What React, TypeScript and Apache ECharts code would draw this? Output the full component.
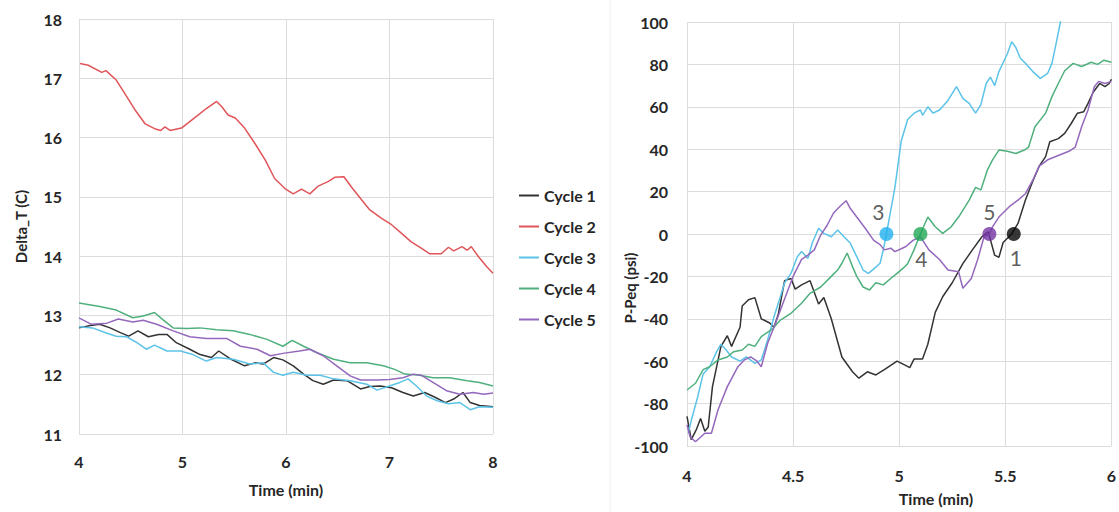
import React, { useEffect, useRef } from "react";
import * as echarts from "echarts";

// ---- Left panel: Delta_T (C) vs Time (min) ----
const leftCycle1: [number, number][] = [
  [4.0, 12.79], [4.11, 12.83], [4.2, 12.85], [4.3, 12.79], [4.4, 12.71], [4.48, 12.65],
  [4.57, 12.74], [4.67, 12.64], [4.77, 12.68], [4.85, 12.68], [4.94, 12.54], [5.07, 12.43],
  [5.17, 12.34], [5.28, 12.29], [5.35, 12.4], [5.46, 12.27], [5.6, 12.15], [5.7, 12.2],
  [5.78, 12.18], [5.88, 12.29], [5.97, 12.25], [6.07, 12.15], [6.17, 12.01], [6.26, 11.9],
  [6.36, 11.84], [6.46, 11.91], [6.59, 11.9], [6.72, 11.76], [6.81, 11.8], [6.91, 11.81],
  [7.02, 11.78], [7.13, 11.7], [7.23, 11.64], [7.34, 11.7], [7.44, 11.62], [7.54, 11.53],
  [7.62, 11.59], [7.71, 11.7], [7.78, 11.53], [7.87, 11.48], [8.0, 11.46],
];
const leftCycle2: [number, number][] = [
  [4.01, 17.25], [4.09, 17.22], [4.22, 17.1], [4.26, 17.13], [4.36, 16.97], [4.44, 16.75],
  [4.54, 16.47], [4.64, 16.23], [4.73, 16.15], [4.79, 16.12], [4.83, 16.18], [4.88, 16.12],
  [4.99, 16.16], [5.07, 16.27], [5.15, 16.38], [5.23, 16.49], [5.33, 16.61], [5.38, 16.52],
  [5.44, 16.38], [5.51, 16.33], [5.6, 16.16], [5.7, 15.9], [5.8, 15.62], [5.89, 15.31],
  [5.99, 15.14], [6.07, 15.05], [6.15, 15.13], [6.23, 15.05], [6.31, 15.18], [6.41, 15.26],
  [6.47, 15.33], [6.56, 15.34], [6.63, 15.17], [6.73, 14.95], [6.81, 14.78], [6.92, 14.64],
  [7.02, 14.53], [7.1, 14.41], [7.21, 14.24], [7.31, 14.13], [7.39, 14.04], [7.5, 14.04],
  [7.57, 14.15], [7.62, 14.09], [7.7, 14.16], [7.75, 14.1], [7.79, 14.16], [7.86, 13.99],
  [7.94, 13.82], [8.0, 13.71],
];
const leftCycle3: [number, number][] = [
  [4.0, 12.81], [4.13, 12.79], [4.27, 12.7], [4.36, 12.65], [4.46, 12.64], [4.56, 12.54],
  [4.65, 12.43], [4.73, 12.5], [4.85, 12.4], [4.98, 12.4], [5.1, 12.34], [5.23, 12.23],
  [5.33, 12.29], [5.49, 12.26], [5.65, 12.18], [5.78, 12.2], [5.88, 12.04], [5.97, 11.99],
  [6.07, 12.04], [6.2, 11.99], [6.33, 11.99], [6.46, 11.93], [6.62, 11.9], [6.78, 11.84],
  [6.88, 11.74], [7.0, 11.81], [7.1, 11.87], [7.18, 11.93], [7.26, 11.81], [7.36, 11.64],
  [7.46, 11.56], [7.57, 11.51], [7.68, 11.53], [7.78, 11.41], [7.87, 11.46], [8.0, 11.45],
];
const leftCycle4: [number, number][] = [
  [4.0, 13.21], [4.2, 13.15], [4.36, 13.09], [4.52, 12.96], [4.62, 12.99], [4.73, 13.05],
  [4.81, 12.93], [4.91, 12.79], [5.04, 12.78], [5.17, 12.79], [5.33, 12.76], [5.49, 12.74],
  [5.65, 12.68], [5.81, 12.6], [5.97, 12.48], [6.06, 12.58], [6.17, 12.48], [6.3, 12.37],
  [6.46, 12.26], [6.62, 12.2], [6.78, 12.2], [6.94, 12.15], [7.05, 12.09], [7.15, 12.01],
  [7.29, 11.99], [7.42, 11.95], [7.58, 11.95], [7.75, 11.9], [7.87, 11.87], [8.0, 11.81],
];
const leftCycle5: [number, number][] = [
  [4.0, 12.96], [4.12, 12.85], [4.27, 12.87], [4.38, 12.94], [4.52, 12.89], [4.62, 12.92],
  [4.75, 12.85], [4.91, 12.74], [5.07, 12.64], [5.23, 12.61], [5.43, 12.61], [5.56, 12.48],
  [5.72, 12.43], [5.85, 12.32], [5.97, 12.36], [6.13, 12.4], [6.23, 12.43], [6.36, 12.32],
  [6.49, 12.15], [6.62, 11.98], [6.72, 11.91], [6.88, 11.91], [7.0, 11.92], [7.13, 11.95],
  [7.23, 12.01], [7.31, 11.99], [7.42, 11.87], [7.55, 11.73], [7.68, 11.67], [7.81, 11.7],
  [7.91, 11.67], [8.0, 11.69],
];

// ---- Right panel: P-Peq (psi) vs Time (min) ----
const rightCycle1: [number, number][] = [
  [4.0, -86], [4.02, -97], [4.045, -92], [4.064, -87], [4.084, -93], [4.1, -91],
  [4.12, -72], [4.16, -53], [4.19, -48], [4.21, -53], [4.25, -44], [4.26, -34],
  [4.29, -31], [4.32, -30], [4.35, -40], [4.39, -42], [4.41, -44], [4.43, -38],
  [4.46, -22], [4.49, -21], [4.51, -26], [4.54, -24], [4.58, -22], [4.62, -33],
  [4.645, -30], [4.68, -40], [4.73, -58], [4.78, -65], [4.81, -68], [4.85, -65],
  [4.89, -66.5], [4.93, -64], [4.96, -62], [4.99, -60], [5.03, -62], [5.05, -63],
  [5.07, -59], [5.11, -59], [5.135, -52], [5.17, -37], [5.205, -29.6], [5.25, -23],
  [5.3, -14], [5.345, -7.5], [5.39, -1.3], [5.42, 1], [5.45, -10], [5.47, -11],
  [5.49, -4], [5.53, 0], [5.56, 5], [5.595, 16], [5.63, 25], [5.66, 32], [5.69, 36.5],
  [5.71, 43.5], [5.75, 45], [5.78, 47.5], [5.81, 52], [5.84, 57], [5.87, 57.7],
  [5.89, 61.6], [5.915, 67], [5.945, 71], [5.97, 69.5], [5.99, 71], [6.0, 73],
];
const rightCycle3: [number, number][] = [
  [4.006, -94], [4.02, -88], [4.05, -77], [4.076, -66], [4.107, -62.6], [4.14, -55.5],
  [4.16, -52], [4.185, -54.7], [4.21, -58], [4.25, -60], [4.28, -58], [4.32, -61],
  [4.35, -59.4], [4.38, -50], [4.41, -39], [4.44, -29.6], [4.46, -23], [4.49, -18.6],
  [4.52, -10.7], [4.54, -8.3], [4.57, -11.5], [4.59, -4.4], [4.62, 2.7], [4.645, 0.3],
  [4.68, -1.3], [4.71, 1.9], [4.74, -1.3], [4.77, -4.4], [4.8, -10.7], [4.83, -17],
  [4.855, -18.6], [4.886, -16], [4.91, -13.8], [4.925, -7.5], [4.94, 0], [4.96, 11],
  [4.98, 22], [5.01, 44], [5.04, 54], [5.07, 57], [5.1, 58.5], [5.11, 56], [5.135, 60],
  [5.16, 57], [5.19, 58.5], [5.23, 63], [5.27, 69.5], [5.3, 64], [5.33, 61.6],
  [5.36, 57], [5.385, 61], [5.41, 71], [5.43, 74], [5.45, 70], [5.47, 76.6], [5.51, 85],
  [5.53, 90.7], [5.55, 88], [5.57, 83], [5.6, 80], [5.63, 76.6], [5.665, 73.4],
  [5.7, 75.8], [5.72, 80.5], [5.74, 90], [5.76, 100], [5.77, 110],
];
const rightCycle4: [number, number][] = [
  [4.0, -73.6], [4.04, -70.4], [4.076, -64], [4.107, -62.6], [4.146, -59.4], [4.19, -58],
  [4.22, -55.5], [4.26, -54.7], [4.29, -52], [4.32, -53], [4.35, -48.4], [4.4, -45],
  [4.44, -40.6], [4.49, -37.4], [4.54, -32.7], [4.58, -28], [4.63, -25], [4.68, -20],
  [4.71, -17], [4.73, -13.8], [4.755, -9], [4.78, -15.4], [4.8, -20], [4.83, -25],
  [4.86, -26.4], [4.89, -23], [4.925, -24], [4.96, -21], [4.99, -18.6], [5.02, -16],
  [5.04, -14], [5.07, -7.5], [5.1, 0], [5.135, 8], [5.17, 3.4], [5.205, 0.3],
  [5.245, 3.4], [5.28, 8], [5.33, 16], [5.36, 22], [5.385, 20.8], [5.415, 30],
  [5.44, 35], [5.47, 39.6], [5.51, 39], [5.55, 38], [5.59, 39.6], [5.61, 41],
  [5.64, 50.6], [5.69, 57], [5.72, 64.8], [5.75, 71], [5.78, 77], [5.82, 80.5],
  [5.86, 79], [5.905, 81], [5.935, 80], [5.965, 82], [6.0, 81],
];
const rightCycle5: [number, number][] = [
  [4.0, -90], [4.014, -95.6], [4.04, -98], [4.084, -94], [4.115, -94], [4.146, -83],
  [4.19, -72], [4.24, -62.6], [4.27, -59.4], [4.3, -58], [4.33, -60], [4.35, -62.6],
  [4.38, -51.5], [4.41, -44], [4.44, -36], [4.47, -28], [4.5, -20], [4.54, -12],
  [4.57, -10], [4.6, -7.5], [4.63, -0.5], [4.66, 4], [4.69, 9.8], [4.72, 13],
  [4.75, 15.7], [4.77, 12], [4.8, 8], [4.84, 2.7], [4.88, -3], [4.91, -5], [4.93, -7.5],
  [4.96, -6.7], [4.98, -8.3], [5.03, -6], [5.065, -3], [5.1, -1.3], [5.14, -7.5],
  [5.19, -12], [5.23, -17], [5.28, -17.8], [5.3, -25.6], [5.34, -21], [5.37, -12],
  [5.4, -1.3], [5.425, 0], [5.44, 3.4], [5.47, 8], [5.52, 13], [5.56, 16], [5.595, 19],
  [5.63, 25.5], [5.66, 32], [5.7, 35], [5.75, 37], [5.8, 39], [5.83, 41], [5.86, 50.6],
  [5.89, 58.5], [5.92, 69.5], [5.94, 72], [5.97, 71], [6.0, 72],
];

// Zero-crossing points marked on the pressure panel
const crossingLabels = ["1", "3", "4", "5"];
const crossingTimes = [5.54, 4.94, 5.1, 5.425];
const crossingValues = [0, 0, 0, 0];

const seriesNames = ["Cycle 1", "Cycle 2", "Cycle 3", "Cycle 4", "Cycle 5"];
const leftTicksX = [4, 5, 6, 7, 8];
const rightTicksX = [4, 4.5, 5, 5.5, 6];

const lineColors = ["#333333", "#e0555a", "#5cc3e8", "#4fb07e", "#9468bd"];
const dotColors: Record<string, string> = {
  "1": "#050505",
  "3": "#22b2ef",
  "4": "#1fa855",
  "5": "#7232a2",
};

const FONT = "Lato, 'Open Sans', sans-serif";
const TEXT = "#262626";
const GRID = "#dcdcdc";

export default function App() {
  const ref = useRef<HTMLDivElement>(null);

  useEffect(() => {
    if (!ref.current) return;
    const chart = echarts.init(ref.current, undefined, { renderer: "svg" });

    const lineSeries = (
      name: string,
      data: [number, number][],
      color: string,
      axisIndex: number
    ) => ({
      type: "line",
      name,
      data,
      xAxisIndex: axisIndex,
      yAxisIndex: axisIndex,
      symbol: "none",
      showSymbol: false,
      smooth: false,
      clip: true,
      lineStyle: { color, width: 1.5 },
      itemStyle: { color },
      z: 3,
    });

    const axisLabel = {
      color: TEXT,
      fontFamily: FONT,
      fontSize: 16,
      fontWeight: "bold",
    };

    const leftData = [leftCycle1, leftCycle2, leftCycle3, leftCycle4, leftCycle5];
    const rightData: ([number, number][] | null)[] = [
      rightCycle1,
      null,
      rightCycle3,
      rightCycle4,
      rightCycle5,
    ];

    const series: any[] = [];
    leftData.forEach((d, i) => series.push(lineSeries(seriesNames[i], d, lineColors[i], 0)));
    rightData.forEach((d, i) => {
      if (d) series.push(lineSeries(seriesNames[i], d, lineColors[i], 1));
    });

    const labelPlacement: Record<string, any> = {
      "1": { position: "bottom", distance: 6, offset: [2, 0] },
      "3": { position: "top", distance: 5, offset: [-8, 0] },
      "4": { position: "bottom", distance: 7, offset: [1, 0] },
      "5": { position: "top", distance: 5, offset: [0, 0] },
    };

    series.push({
      type: "scatter",
      name: "crossings",
      xAxisIndex: 1,
      yAxisIndex: 1,
      symbol: "circle",
      symbolSize: 14,
      z: 5,
      data: crossingLabels.map((lab, i) => ({
        value: [crossingTimes[i], crossingValues[i]],
        itemStyle: { color: dotColors[lab] },
        label: {
          show: true,
          formatter: lab,
          color: "#333333",
          fontFamily: FONT,
          fontSize: 21,
          ...labelPlacement[lab],
        },
      })),
    });

    chart.setOption({
      animation: false,
      backgroundColor: "#ffffff",
      textStyle: { fontFamily: FONT },
      legend: {
        data: seriesNames,
        orient: "vertical",
        left: 514,
        top: 181,
        icon: "rect",
        itemWidth: 20,
        itemHeight: 2,
        itemGap: 12,
        textStyle: {
          color: TEXT,
          fontFamily: FONT,
          fontSize: 16,
          fontWeight: "bold",
          lineHeight: 19,
        },
        selectedMode: false,
      },
      grid: [
        { left: 79, top: 19, right: 626, bottom: 78, containLabel: false },
        { left: 687, top: 22, right: 4, bottom: 66, containLabel: false },
      ],
      xAxis: [
        {
          type: "value",
          gridIndex: 0,
          min: leftTicksX[0],
          max: leftTicksX[leftTicksX.length - 1],
          interval: 1,
          name: "Time (min)",
          nameLocation: "middle",
          nameGap: 47,
          nameTextStyle: { ...axisLabel, fontSize: 16 },
          axisLine: { show: false },
          axisTick: { show: false },
          axisLabel: { ...axisLabel, margin: 19 },
          splitLine: { show: true, lineStyle: { color: GRID, width: 1 } },
        },
        {
          type: "value",
          gridIndex: 1,
          min: rightTicksX[0],
          max: rightTicksX[rightTicksX.length - 1],
          interval: 0.5,
          axisLine: { show: false },
          axisTick: { show: false },
          axisLabel: { ...axisLabel, margin: 21 },
          splitLine: { show: true, lineStyle: { color: GRID, width: 1 } },
        },
      ],
      yAxis: [
        {
          type: "value",
          gridIndex: 0,
          min: 11,
          max: 18,
          interval: 1,
          name: "Delta_T (C)",
          nameLocation: "middle",
          nameGap: 51,
          nameTextStyle: { ...axisLabel, fontSize: 15 },
          axisLine: { show: false },
          axisTick: { show: false },
          axisLabel: { ...axisLabel, margin: 17 },
          splitLine: { show: true, lineStyle: { color: GRID, width: 1 } },
        },
        {
          type: "value",
          gridIndex: 1,
          min: -100,
          max: 100,
          interval: 20,
          axisLine: { show: false },
          axisTick: { show: false },
          axisLabel: { ...axisLabel, margin: 19 },
          splitLine: { show: true, lineStyle: { color: GRID, width: 1 } },
        },
      ],
      graphic: [
        {
          type: "line",
          shape: { x1: 610, y1: 0, x2: 610, y2: 512 },
          style: { stroke: "#efefef", lineWidth: 1 },
          silent: true,
        },
        {
          type: "text",
          x: 936,
          y: 498,
          style: {
            text: "Time (min)",
            fill: TEXT,
            font: `bold 16px ${FONT}`,
            align: "center",
            verticalAlign: "middle",
          },
        },
        {
          type: "text",
          x: 630,
          y: 288,
          rotation: Math.PI / 2,
          style: {
            text: "P-Peq (psi)",
            fill: TEXT,
            font: `bold 15px ${FONT}`,
            align: "center",
            verticalAlign: "middle",
          },
        },
      ],
      series,
    });

    return () => chart.dispose();
  }, []);

  return (
    <div
      ref={ref}
      style={{ position: "fixed", left: 0, top: 0, width: 1119, height: 512 }}
    />
  );
}
